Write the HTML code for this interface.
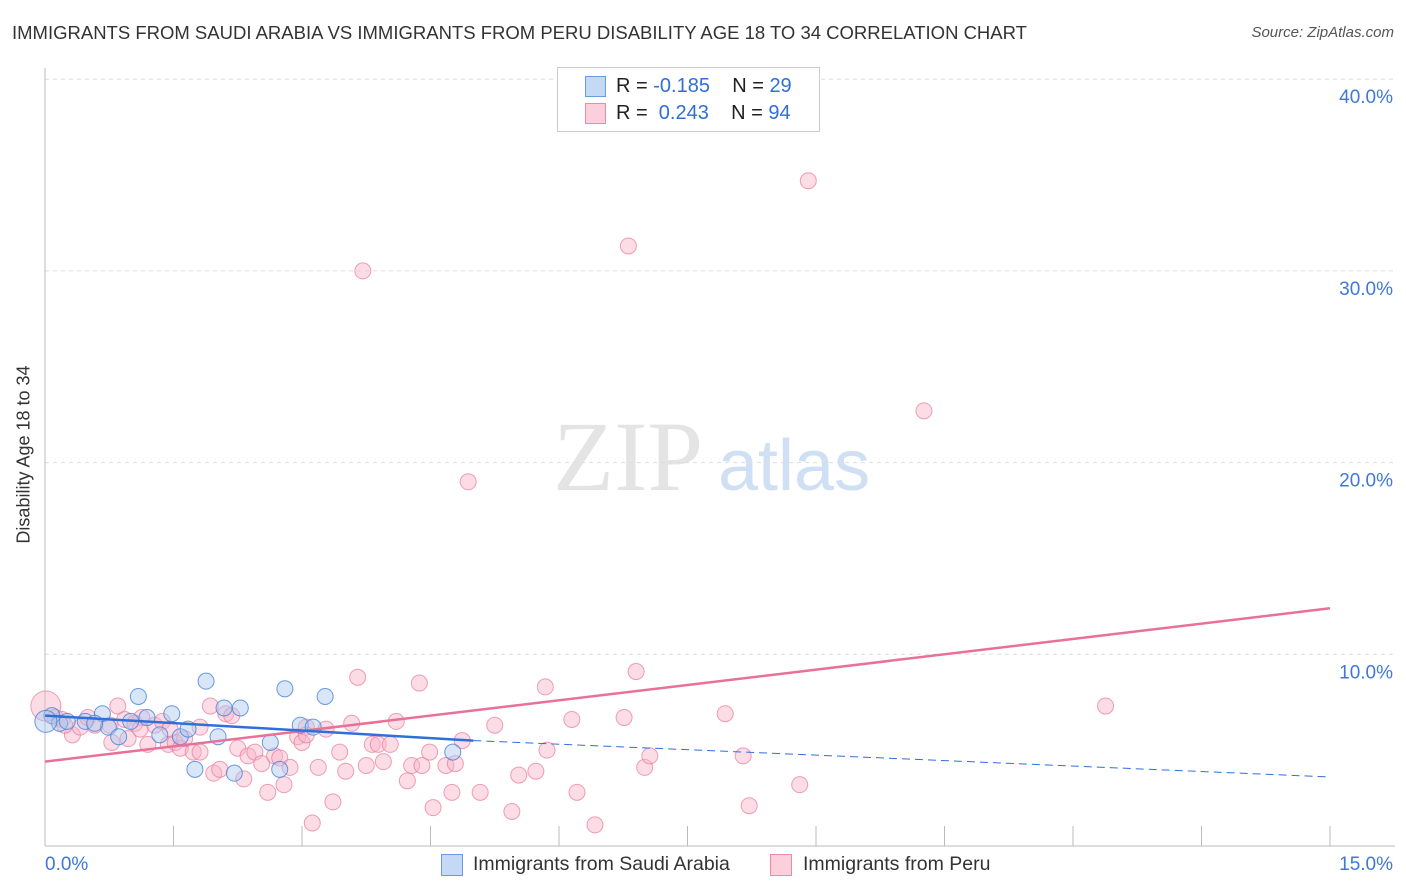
<!DOCTYPE html>
<html><head><meta charset="utf-8"><style>
body{margin:0;background:#fff;font-family:"Liberation Sans",sans-serif;}
#wrap{position:relative;width:1406px;height:892px;overflow:hidden;}
.t{position:absolute;white-space:nowrap;}
</style></head><body>
<div id="wrap">
<div class="t" style="left:12px;top:22px;font-size:18.5px;color:#333;">IMMIGRANTS FROM SAUDI ARABIA VS IMMIGRANTS FROM PERU DISABILITY AGE 18 TO 34 CORRELATION CHART</div>
<div class="t" style="right:12px;top:24px;font-size:15px;color:#555;font-style:italic;">Source: ZipAtlas.com</div>
<div class="t" style="left:-65px;top:444px;font-size:18px;color:#333;transform:rotate(-90deg);">Disability Age 18 to 34</div>
<svg id="plot" width="1406" height="892" style="position:absolute;left:0;top:0"></svg>
<div style="position:absolute;left:557px;top:67px;width:261px;height:63px;border:1px solid #ccc;background:#fff;font-size:20px;">
 <div style="position:absolute;left:27px;top:8px;width:19px;height:19px;background:#c5d9f5;border:1px solid #6a9be0;"></div>
 <div class="t" style="left:58px;top:7px;color:#222;">R = <span style="color:#2f6fd8">-0.185</span>&nbsp;&nbsp;&nbsp; N = <span style="color:#2f6fd8">29</span></div>
 <div style="position:absolute;left:27px;top:35px;width:19px;height:19px;background:#fbd0dc;border:1px solid #ec8aa8;"></div>
 <div class="t" style="left:58px;top:34px;color:#222;">R = &nbsp;<span style="color:#2f6fd8">0.243</span>&nbsp;&nbsp;&nbsp; N = <span style="color:#2f6fd8">94</span></div>
</div>
<div style="position:absolute;top:853px;left:441px;font-size:19.5px;color:#333;">
 <div style="position:absolute;left:0;top:1px;width:20px;height:20px;background:#c5d9f5;border:1px solid #6a9be0;"></div>
 <div class="t" style="left:32px;top:0;">Immigrants from Saudi Arabia</div>
 <div style="position:absolute;left:329px;top:1px;width:20px;height:20px;background:#fbd0dc;border:1px solid #ec8aa8;"></div>
 <div class="t" style="left:362px;top:0;">Immigrants from Peru</div>
</div>
</div>
<script>
const yTicks=[10,20,30,40];
const xTickLabels=["0.0%","15.0%"];
const saudiX=[0.08,0.17,0.26,0.47,0.67,0.74,0.86,1.0,1.09,1.19,1.34,1.48,1.58,1.67,1.75,1.88,2.02,2.09,2.21,2.28,2.63,2.74,2.80,2.98,3.13,3.27,4.76,0.01,0.58];
const saudiY=[6.8,6.4,6.5,6.5,6.9,6.2,5.7,6.5,7.8,6.7,5.8,6.9,5.7,6.1,4.0,8.6,5.7,7.2,3.8,7.2,5.4,4.0,8.2,6.3,6.2,7.8,4.9,6.5,6.4];
const peruX=[0.01,0.12,0.20,0.32,0.41,0.50,0.58,0.78,0.85,0.93,0.97,1.05,1.13,1.20,1.28,1.37,1.44,1.52,1.58,1.63,1.73,1.81,1.93,1.97,2.04,2.11,2.18,2.25,2.32,2.37,2.45,2.53,2.60,2.68,2.74,2.79,2.86,2.95,3.00,3.05,3.12,3.19,3.28,3.36,3.44,3.51,3.58,3.65,3.75,3.82,3.89,3.95,4.03,4.10,4.23,4.28,4.37,4.40,4.49,4.53,4.68,4.75,4.79,4.87,4.94,5.08,5.25,5.45,5.53,5.73,5.84,5.86,6.15,6.21,6.42,6.76,6.81,6.90,7.00,7.06,7.94,8.15,8.22,8.81,8.91,10.26,12.38,3.71,3.05,1.81,0.76,0.23,1.46,1.11];
const peruY=[7.3,6.7,6.6,5.8,6.2,6.7,6.3,5.4,7.3,6.6,5.6,6.4,6.7,5.3,6.3,6.5,5.3,5.4,5.1,5.6,4.9,6.2,7.3,3.8,4.0,6.9,6.8,5.1,3.5,4.7,4.9,4.3,2.8,4.7,4.6,3.2,4.1,5.7,5.4,6.2,1.2,4.1,6.1,2.3,4.9,3.9,6.4,8.8,4.2,5.3,5.3,4.4,5.3,6.5,3.4,4.2,8.5,4.2,4.9,2.0,4.2,2.8,4.3,5.5,19.0,2.8,6.3,1.8,3.7,3.9,8.3,5.0,6.6,2.8,1.1,6.7,31.3,9.1,4.1,4.7,6.9,4.7,2.1,3.2,34.7,22.7,7.3,30.0,5.8,4.9,6.3,6.3,6.1,6.1];
const saudiLine=[[0,6.8],[5.0,5.5],[15,3.6]];
const peruLine=[[0,4.4],[15,12.4]];
const X0=45,X1=1330,Y0=846,PY=19.17;
const sx=v=>X0+(X1-X0)*v/15, sy=v=>Y0-v*PY;
const svg=document.getElementById('plot');const NS='http://www.w3.org/2000/svg';
function mk(t,a){const e=document.createElementNS(NS,t);for(const k in a)e.setAttribute(k,a[k]);svg.appendChild(e);return e;}
const wm=mk('text',{x:553,y:490,'font-size':100,fill:'#e4e4e4','font-family':'Liberation Serif'});wm.textContent='ZIP';


const wm2=mk('text',{x:718,y:490,'font-size':72,fill:'#cfe0f5','font-family':'Liberation Sans'});wm2.textContent='atlas';


yTicks.forEach(v=>{const l=mk('line',{x1:X0,x2:1395,y1:sy(v),y2:sy(v),stroke:'#ddd','stroke-dasharray':'4,4'});


const t=mk('text',{x:1393,y:sy(v)+24,'font-size':19,fill:'#3f78d8','text-anchor':'end'});t.textContent=v.toFixed(1)+'%';

});
const ax=mk('line',{x1:X0,x2:X0,y1:68,y2:Y0,stroke:'#bbb'});


const bx=mk('line',{x1:X0,x2:1395,y1:Y0,y2:Y0,stroke:'#bbb'});


for(let i=0;i<=10;i++){const tk=mk('line',{x1:sx(i*1.5),x2:sx(i*1.5),y1:Y0,y2:Y0-20,stroke:'#bbb'});

}
[[xTickLabels[0],45,'start'],[xTickLabels[1],1393,'end']].forEach(([s,x,a])=>{const t=mk('text',{x:x,y:870,'font-size':19,fill:'#3f78d8','text-anchor':a});t.textContent=s;

});
peruX.forEach((v,i)=>{const c=mk('circle',{cx:sx(v),cy:sy(peruY[i]),r:i==0?15:8,fill:'rgba(248,180,200,0.45)',stroke:'rgba(232,120,155,0.7)','stroke-width':1});

});
saudiX.forEach((v,i)=>{const c=mk('circle',{cx:sx(v),cy:sy(saudiY[i]),r:i==27?11:8,fill:'rgba(170,200,240,0.45)',stroke:'rgba(70,130,215,0.8)','stroke-width':1});

});
const pl=mk('line',{x1:sx(peruLine[0][0]),y1:sy(peruLine[0][1]),x2:sx(peruLine[1][0]),y2:sy(peruLine[1][1]),stroke:'#e8709a','stroke-width':2.5});


const bl=mk('line',{x1:sx(saudiLine[0][0]),y1:sy(saudiLine[0][1]),x2:sx(saudiLine[1][0]),y2:sy(saudiLine[1][1]),stroke:'#2f6fd8','stroke-width':2.5});


const bd=mk('line',{x1:sx(saudiLine[1][0]),y1:sy(saudiLine[1][1]),x2:sx(saudiLine[2][0]),y2:sy(saudiLine[2][1]),stroke:'#2f6fd8','stroke-width':1,'stroke-dasharray':'8,5'});


</script>
</body></html>
